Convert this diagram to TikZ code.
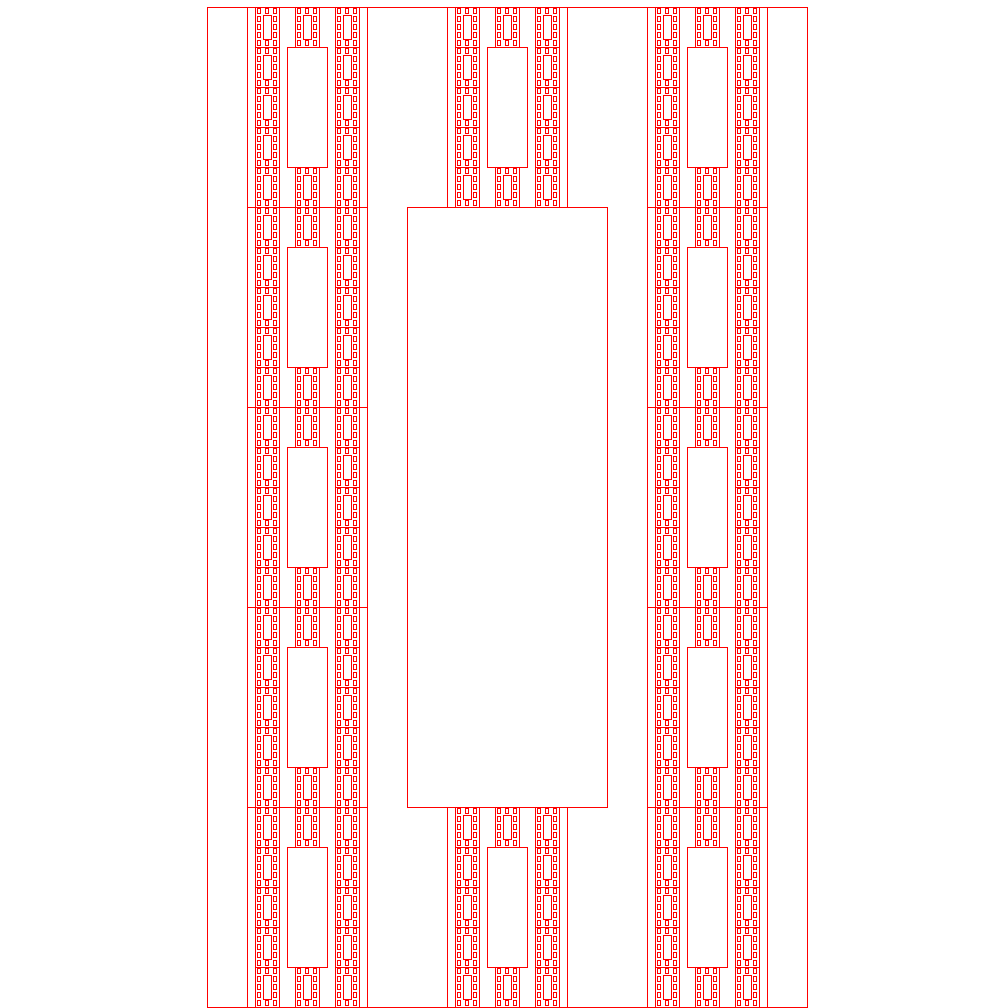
\documentclass[tikz,border=0pt]{standalone}
\usetikzlibrary{calc}
\definecolor{FracRed}{HTML}{FF0000}

\begin{document}
\begin{tikzpicture}[x=1pt, y=-1pt,
    frame/.style={draw=FracRed, line width=0.9pt},
    cell/.style={draw=FracRed, line width=0.9pt},
    leaf/.style={draw=FracRed, line width=0.9pt}
  ]
  \useasboundingbox (0,0) rectangle (1008,1008);
  % kept squares of the 3x5 grid (column/row)
  \def\cells{0/0,0/1,0/2,0/3,0/4,1/0,1/4,2/0,2/1,2/2,2/3,2/4}

  % Level 0
  \draw[frame] (207,7) rectangle ++(600,1000);
  \draw[frame] (407,207) rectangle ++(200,600);

  % Level 1
  \foreach \ca/\ra in \cells {
    \pgfmathsetmacro\xa{207+200*\ca+40}
    \pgfmathsetmacro\ya{7+200*\ra}
    \draw[frame] (\xa,\ya) rectangle ++(120,200);
    \draw[frame] (\xa+40,\ya+40) rectangle ++(40,120);
    % Level 2
    \foreach \cb/\rb in \cells {
      \pgfmathsetmacro\xb{\xa+40*\cb+8}
      \pgfmathsetmacro\yb{\ya+40*\rb}
      \draw[cell] (\xb,\yb) rectangle ++(24,40);
      \draw[cell] (\xb+8,\yb+8) rectangle ++(8,24);
      % Level 3
      \foreach \cc/\rc in \cells
        \draw[leaf] ({\xb+8*\cc+2.56},{\yb+8*\rc+1.6}) rectangle ++(2.88,4.8);
    }
  }
\end{tikzpicture}
\end{document}
